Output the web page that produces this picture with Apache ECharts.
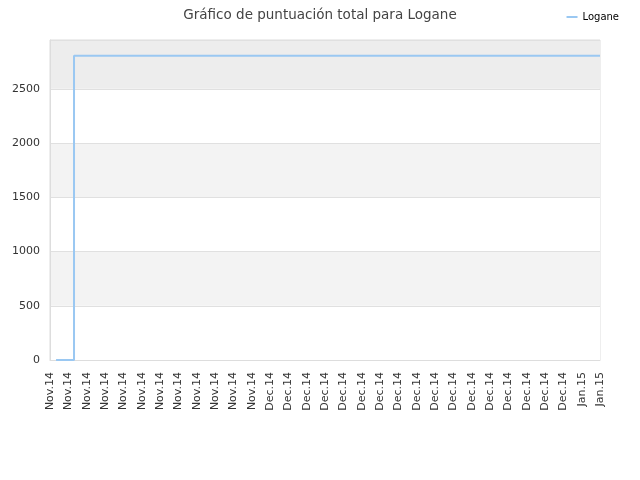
<!DOCTYPE html>
<html>
<head>
    <meta charset="utf-8">
    <title>Gráfico de puntuación total para Logane</title>
    <script src="https://cdn.jsdelivr.net/npm/echarts@6/dist/echarts.min.js"></script>
    <style type="text/css">
        html, body {margin:0; padding:0; background-color:#fff;}
    </style>
</head>
<body>
<div id="container" style="width:640px;height:480px;"></div>

<script type="text/javascript">
    // etiquetas del eje x (una por posicion)
    var labels = [
        'Nov.14','Nov.14','Nov.14','Nov.14','Nov.14','Nov.14','Nov.14','Nov.14','Nov.14','Nov.14','Nov.14','Nov.14',
        'Dec.14','Dec.14','Dec.14','Dec.14','Dec.14','Dec.14','Dec.14','Dec.14','Dec.14','Dec.14','Dec.14','Dec.14',
        'Dec.14','Dec.14','Dec.14','Dec.14','Dec.14',
        'Jan.15','Jan.15'
    ];
    // posicion (en indices de etiqueta) y puntuacion
    var pos = [0.33, 1.31, 30];
    var score = [0, 2805, 2805];
    var yTicks = [0, 500, 1000, 1500, 2000, 2500];

    var data = [];
    for (var i = 0; i < pos.length; i++) {
        data.push([pos[i], score[i]]);
    }

    var dom = document.getElementById("container");
    var chart = echarts.init(dom);
    var font = 'DejaVu Sans';

    var option = {
        animation: false,
        backgroundColor: '#fff',
        textStyle: {fontFamily: font},
        title: {
            text: 'Gráfico de puntuación total para Logane',
            left: 'center',
            top: 3,
            textStyle: {fontFamily: font, fontSize: 13.5, fontWeight: 'normal', color: '#444'}
        },
        legend: {
            right: 16,
            top: 7,
            itemWidth: 11,
            itemHeight: 2,
            itemGap: 8,
            icon: 'rect',
            textStyle: {fontFamily: font, fontSize: 10, color: '#000'},
            data: ['Logane']
        },
        grid: {
            left: 50, right: 40, top: 40, bottom: 120,
            show: true,
            borderColor: '#dddddd',
            borderWidth: 1,
            backgroundColor: 'transparent'
        },
        xAxis: {
            type: 'value',
            min: 0,
            max: labels.length - 1,
            interval: 1,
            axisLine: {show: true, lineStyle: {color: '#dddddd'}},
            axisTick: {show: false},
            splitLine: {show: false},
            axisLabel: {
                rotate: 90,
                fontSize: 11,
                color: '#333',
                margin: 12,
                formatter: function (v) { return labels[Math.round(v)] || ''; }
            }
        },
        yAxis: {
            type: 'value',
            min: 0,
            max: 2950,
            interval: 500,
            axisLine: {show: true, lineStyle: {color: '#dddddd'}},
            axisTick: {show: false},
            axisLabel: {
                fontSize: 11,
                color: '#333',
                margin: 10,
                formatter: function (v) { return yTicks.indexOf(v) >= 0 ? String(v) : ''; }
            },
            splitLine: {show: true, lineStyle: {color: '#e0e0e0'}},
            splitArea: {
                show: true,
                areaStyle: {color: ['#ffffff', '#f3f3f3', '#ffffff', '#f3f3f3', '#ffffff', '#ededed']}
            }
        },
        series: [{
            name: 'Logane',
            type: 'line',
            step: 'end',
            showSymbol: false,
            symbol: 'none',
            color: '#9ac8f2',
            lineStyle: {width: 2, color: '#9ac8f2'},
            data: data
        }]
    };

    chart.setOption(option, true);
</script>
</body>
</html>
